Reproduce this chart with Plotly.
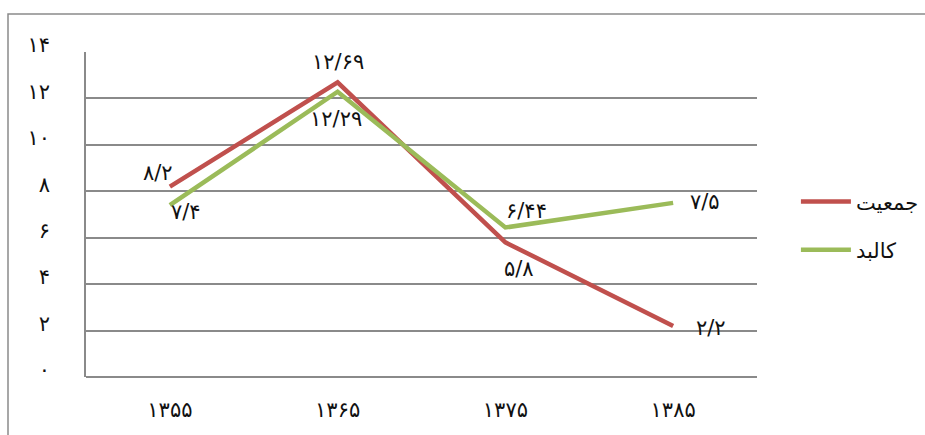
import plotly.graph_objects as go

years = ["۱۳۵۵", "۱۳۶۵", "۱۳۷۵", "۱۳۸۵"]
population = [8.2, 12.69, 5.8, 2.2]
population_labels = ["۸/۲", "۱۲/۶۹", "۵/۸", "۲/۲"]
physical = [7.4, 12.29, 6.44, 7.5]
physical_labels = ["۷/۴", "۱۲/۲۹", "۶/۴۴", "۷/۵"]
series_names = ["جمعیت", "کالبد"]
ytick_vals = [0, 2, 4, 6, 8, 10, 12, 14]
ytick_text = ["۰", "۲", "۴", "۶", "۸", "۱۰", "۱۲", "۱۴"]

RED = "#C0504D"
GREEN = "#9BBB59"
GRID = "#8a8a8a"
FONT = "DejaVu Sans"
FS = 21

# pixel offsets for data labels (style only)
pop_off = [(-12, 14), (0, 20), (14, -27), (38, -2)]
phy_off = [(16, -7), (-2, -27), (21, 17), (32, 1)]

fig = go.Figure()
fig.add_trace(go.Scatter(x=years, y=population, mode="lines", name=series_names[0],
                         legendgroup="a", line=dict(color=RED, width=4.5)))
fig.add_trace(go.Scatter(x=years, y=physical, mode="lines", name=series_names[1],
                         legendgroup="b", line=dict(color=GREEN, width=4.5)))

annotations = []
for xs, ys, labs, offs in [(years, population, population_labels, pop_off),
                           (years, physical, physical_labels, phy_off)]:
    for xv, yv, lab, (dx, dy) in zip(xs, ys, labs, offs):
        annotations.append(dict(x=xv, y=yv, xref="x", yref="y", text=lab,
                                showarrow=False, xshift=dx, yshift=dy,
                                font=dict(family=FONT, size=FS, color="#111")))

fig.update_layout(
    width=925, height=435,
    margin=dict(l=86, r=168, t=52, b=58, autoexpand=False),
    paper_bgcolor="white", plot_bgcolor="white",
    font=dict(family=FONT, size=FS, color="#111"),
    showlegend=True,
    legend=dict(x=1.058, y=0.465, xanchor="left", yanchor="middle",
                font=dict(family=FONT, size=FS, color="#111"),
                itemwidth=50, traceorder="grouped", tracegroupgap=18,
                bgcolor="rgba(0,0,0,0)"),
    annotations=annotations,
    shapes=[dict(type="rect", xref="paper", yref="paper",
                 x0=(8 - 86) / 671, x1=1.5, y0=-0.5, y1=1 + (52 - 14) / 325,
                 line=dict(color=GRID, width=1.5), layer="below")],
)
fig.update_xaxes(type="category", range=[-0.5, 3.5], showgrid=False, showline=False,
                 zeroline=False, ticks="", ticklabelstandoff=18,
                 tickfont=dict(family=FONT, size=FS, color="#111"), fixedrange=True)
fig.update_yaxes(range=[0, 14], tickvals=ytick_vals, ticktext=ytick_text,
                 showgrid=True, gridcolor=GRID, gridwidth=1.5,
                 showline=True, linecolor=GRID, linewidth=1.5, mirror=False,
                 zeroline=True, zerolinecolor=GRID, zerolinewidth=1.5,
                 ticks="", ticklabelstandoff=30, ticklabelshift=-7,
                 tickfont=dict(family=FONT, size=FS, color="#111"), fixedrange=True)

fig.write_html("out.html")
